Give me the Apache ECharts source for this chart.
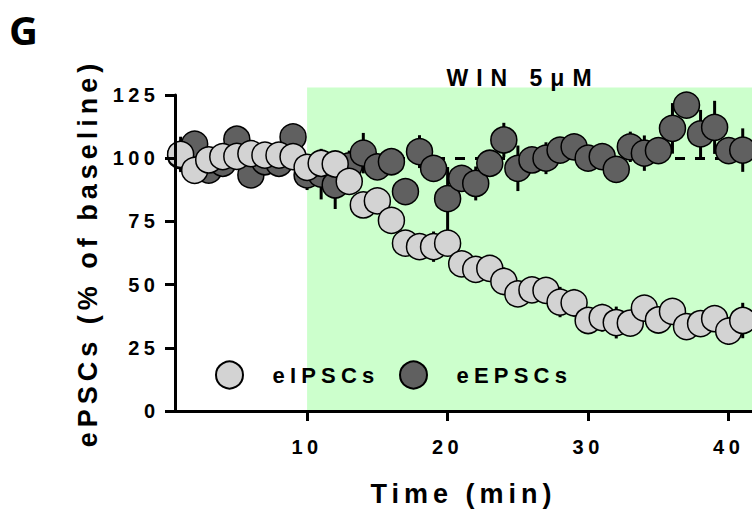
<!DOCTYPE html>
<html>
<head>
<meta charset="utf-8">
<script src="https://cdn.jsdelivr.net/npm/echarts@6/dist/echarts.min.js"></script>
<style>
  html, body { margin: 0; padding: 0; background: #fff; }
  #chart { width: 752px; height: 512px; }
  #chart text[style*="20px"] { letter-spacing: 4.5px; }
  #chart text[style*="27px"] { letter-spacing: 5px; }
  #chart text[style*="22px"] { letter-spacing: 5.2px; }
  #chart text[style*="23px"] { letter-spacing: 8px; }
</style>
</head>
<body>
<div id="chart"></div>
<script>
// ---- data ----
const minutes = [1, 2, 3, 4, 5, 6, 7, 8, 9, 10, 11, 12, 13, 14, 15, 16, 17, 18, 19, 20,
  21, 22, 23, 24, 25, 26, 27, 28, 29, 30, 31, 32, 33, 34, 35, 36, 37, 38, 39, 40, 41];
const eIPSCs = [101.5, 95.2, 99.3, 100.6, 100.7, 101.8, 101.2, 101.2, 100.6, 96.4,
  98.0, 97.7, 90.8, 81.5, 83.1, 75.4, 66.4, 65.0, 65.0, 66.4,
  58.2, 56.0, 56.4, 51.3, 46.3, 47.9, 47.7, 43.1, 42.8, 35.8,
  36.9, 35.0, 34.8, 40.7, 36.0, 39.4, 33.4, 34.6, 36.5, 31.6, 35.8];
const eIPSCsSEM = [7, 4, 4, 3, 3, 3, 3, 3, 3, 5,
  4, 4, 5, 5, 5, 5, 5, 5, 6, 5,
  5, 5, 5, 5.5, 5, 5, 5, 6, 5.5, 5,
  5.5, 6.3, 5, 5, 5, 5, 5, 5, 5, 5.5, 7];
const eEPSCs = [101.0, 105.6, 95.3, 98.0, 107.5, 93.4, 98.6, 98.0, 108.4, 93.4,
  93.7, 89.4, 97.0, 102.0, 96.6, 98.6, 86.8, 102.6, 96.0, 84.0,
  92.0, 90.0, 98.0, 107.2, 96.0, 99.3, 100.0, 103.2, 104.5, 100.0,
  100.6, 95.6, 104.5, 102.0, 103.0, 111.8, 121.0, 109.6, 112.2, 103.0, 103.2];
const eEPSCsSEM = [6, 5, 4, 4, 4, 4, 4, 4, 4, 6,
  10, 9.5, 6, 8, 4, 4, 5, 6.5, 5, 12.5,
  5, 6.7, 5, 6.8, 9, 5, 6.3, 5, 5, 5,
  5, 4, 6, 7, 5, 10, 5, 9.5, 10.5, 5, 8.6];
const seriesNames = ['eIPSCs', 'eEPSCs'];
const xTicks = [10, 20, 30, 40];
const yTicks = [0, 25, 50, 75, 100, 125];
const baseline = 100;
const drugStart = 10;
const drugShadeTop = 128;
const drugLabel = 'WIN 5\u03bcM';
const panelLabel = 'G';
const xName = 'Time (min)';
const yName = 'ePSCs (% of baseline)';

// ---- chart ----
const FONT = 'Liberation Sans';
const chart = echarts.init(document.getElementById('chart'), null, { renderer: 'svg' });

function toPoints(values) {
  return minutes.map((m, i) => [m, values[i]]);
}
function toErr(values, sem) {
  return minutes.map((m, i) => [m, values[i], sem[i]]);
}
function errRender(params, api) {
  const x = api.value(0), y = api.value(1), e = api.value(2);
  const p1 = api.coord([x, y - e]);
  const p2 = api.coord([x, y + e]);
  return {
    type: 'line',
    shape: { x1: p1[0], y1: p1[1], x2: p2[0], y2: p2[1] },
    style: { stroke: '#000', lineWidth: 3 }
  };
}

const option = {
  animation: false,
  backgroundColor: '#fff',
  title: [
    {
      text: panelLabel, left: 9, top: 9, padding: 0,
      textStyle: { fontFamily: 'Open Sans', fontWeight: 'bold', fontSize: 40, color: '#000' }
    },
    {
      text: drugLabel, left: 523, top: 66, padding: 0, textAlign: 'center',
      textStyle: { fontFamily: FONT, fontWeight: 'bold', fontSize: 23, color: '#000' }
    }
  ],
  legend: [
    {
      data: [seriesNames[0]], left: 215, top: 360.5, padding: 0,
      icon: 'circle', itemWidth: 76, itemHeight: 27,
      textStyle: { fontFamily: FONT, fontWeight: 'bold', fontSize: 22, color: '#000' }
    },
    {
      data: [seriesNames[1]], left: 399, top: 360.5, padding: 0,
      icon: 'circle', itemWidth: 76, itemHeight: 27,
      textStyle: { fontFamily: FONT, fontWeight: 'bold', fontSize: 22, color: '#000' }
    }
  ],
  grid: { left: 175, right: 0, top: 95, bottom: 101, containLabel: false },
  xAxis: {
    type: 'value', min: 0.6, max: 41.66, z: 10,
    name: xName, nameLocation: 'middle', nameGap: 69,
    nameTextStyle: { fontFamily: FONT, fontWeight: 'bold', fontSize: 27, color: '#000' },
    axisLine: { onZero: false, lineStyle: { color: '#000', width: 3 } },
    axisTick: { customValues: xTicks, length: 10, lineStyle: { color: '#000', width: 3 } },
    axisLabel: { customValues: xTicks, margin: 26, fontFamily: FONT, fontWeight: 'bold', fontSize: 20, color: '#000' },
    splitLine: { show: false }
  },
  yAxis: {
    type: 'value', min: 0, max: 125, interval: 25, z: 10,
    name: yName, nameLocation: 'middle', nameGap: 73.5, nameRotate: 90,
    nameTextStyle: { fontFamily: FONT, fontWeight: 'bold', fontSize: 27, color: '#000' },
    axisLine: { show: true, lineStyle: { color: '#000', width: 3 } },
    axisTick: { show: true, customValues: yTicks, length: 10, lineStyle: { color: '#000', width: 3 } },
    axisLabel: { customValues: yTicks, margin: 15.5, fontFamily: FONT, fontWeight: 'bold', fontSize: 20, color: '#000' },
    splitLine: { show: false }
  },
  series: [
    {
      name: 'drug', type: 'custom', z: 1, clip: false, silent: true,
      data: [[drugStart, drugShadeTop]],
      renderItem: function (params, api) {
        const p0 = api.coord([api.value(0), api.value(1)]);
        const p1 = api.coord([api.value(0), 0]);
        const cs = params.coordSys;
        return {
          type: 'rect',
          shape: { x: p0[0], y: p0[1], width: cs.x + cs.width - p0[0], height: p1[1] - p0[1] },
          style: { fill: '#ccffcc' }
        };
      },
      markLine: {
        silent: true, symbol: 'none', z: 2,
        label: { show: false },
        lineStyle: { color: '#000', width: 3, type: [10, 10] },
        data: [{ yAxis: baseline }]
      }
    },
    {
      name: seriesNames[1] + ' err', type: 'custom', z: 3, clip: false, silent: true,
      data: toErr(eEPSCs, eEPSCsSEM), renderItem: errRender
    },
    {
      name: seriesNames[1], type: 'scatter', z: 4, clip: false,
      symbol: 'circle', symbolSize: 26,
      itemStyle: { color: '#606060', borderColor: '#000', borderWidth: 1.5, opacity: 1 },
      data: toPoints(eEPSCs)
    },
    {
      name: seriesNames[0] + ' err', type: 'custom', z: 5, clip: false, silent: true,
      data: toErr(eIPSCs, eIPSCsSEM), renderItem: errRender
    },
    {
      name: seriesNames[0], type: 'scatter', z: 6, clip: false,
      symbol: 'circle', symbolSize: 26,
      itemStyle: { color: '#d3d3d3', borderColor: '#000', borderWidth: 1.5, opacity: 1 },
      data: toPoints(eIPSCs)
    }
  ]
};
chart.setOption(option);
</script>
</body>
</html>
